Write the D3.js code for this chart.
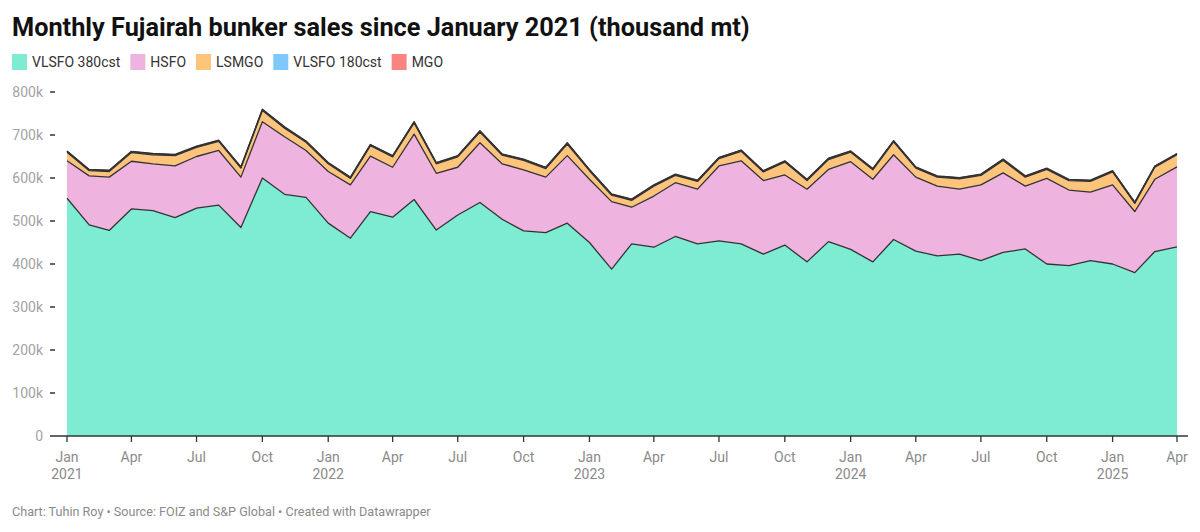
<!DOCTYPE html>
<html>
<head>
<meta charset="utf-8">
<script src="https://cdn.jsdelivr.net/npm/d3@7"></script>
<style>
  body { margin: 0; background: #fff; font-family: Roboto, "Noto Sans", sans-serif; }
  svg text { font-family: Roboto, "Noto Sans", sans-serif; }
</style>
</head>
<body>
<svg id="chart"></svg>
<script>
// Monthly values, thousand mt, Jan 2021 .. Apr 2025
const startMonth = new Date(2021, 0, 1);
const vlsfo380 = [553, 491, 478, 528, 524, 508, 530, 537, 485, 600, 562, 555,
                  495, 460, 522, 509, 550, 479, 514, 543, 504, 477, 473, 495,
                  450, 388, 447, 439, 464, 447, 454, 447, 423, 444, 405, 452,
                  434, 405, 457, 430, 419, 423, 408, 427, 435, 400, 396, 408,
                  400, 380, 429, 440];
const hsfo = [87, 114, 124, 111, 109, 120, 120, 127, 117, 131, 134, 109,
              120, 124, 129, 116, 152, 132, 111, 139, 129, 142, 129, 157,
              147, 157, 85, 119, 125, 127, 174, 193, 171, 163, 169, 168,
              204, 192, 197, 172, 162, 151, 176, 185, 146, 199, 176, 159,
              184, 142, 168, 186];
const lsmgo = [20, 12, 13, 20, 21, 24, 21, 21, 21, 26, 20, 19,
               18, 15, 24, 24, 26, 22, 24, 25, 20, 22, 20, 27,
               20, 15, 16, 23, 17, 18, 17, 22, 20, 30, 20, 23,
               22, 22, 30, 21, 21, 24, 22, 29, 21, 21, 22, 25,
               30, 19, 28, 28];
const vlsfo180 = [2, 2, 2, 2, 2, 2, 2, 2, 2, 2, 2, 2,
                  2, 2, 2, 2, 2, 2, 2, 2, 2, 2, 2, 2,
                  2, 2, 2, 2, 2, 2, 2, 2, 2, 2, 2, 2,
                  2, 2, 2, 2, 2, 2, 2, 2, 2, 2, 2, 2,
                  2, 2, 2, 2];
const mgo = [1, 1, 1, 1, 1, 1, 1, 1, 1, 1, 1, 1,
             1, 1, 1, 1, 1, 1, 1, 1, 1, 1, 1, 1,
             1, 1, 1, 1, 1, 1, 1, 1, 1, 1, 1, 1,
             1, 1, 1, 1, 1, 1, 1, 1, 1, 1, 1, 1,
             1, 1, 1, 1];
const seriesNames = ["VLSFO 380cst", "HSFO", "LSMGO", "VLSFO 180cst", "MGO"];
const seriesColors = ["#7eecd3", "#efb3df", "#ffc47c", "#7ec8fb", "#fa8580"];
const yTicks = [0, 100, 200, 300, 400, 500, 600, 700, 800];

const width = 1200, height = 532;
const margin = { top: 92, right: 23, bottom: 96, left: 67 };

const svg = d3.select("#chart")
    .attr("width", width)
    .attr("height", height);

// Build rows for the stack
const allSeries = [vlsfo380, hsfo, lsmgo, vlsfo180, mgo];
const rows = vlsfo380.map((v, i) => {
    const row = { date: d3.timeMonth.offset(startMonth, i) };
    seriesNames.forEach((name, k) => row[name] = allSeries[k][i]);
    return row;
});

const x = d3.scaleTime()
    .domain(d3.extent(rows, d => d.date))
    .range([margin.left, width - margin.right]);
const y = d3.scaleLinear()
    .domain([0, 800])
    .range([height - margin.bottom, margin.top]);

const stacked = d3.stack().keys(seriesNames)(rows);

const area = d3.area()
    .x(d => x(d.data.date))
    .y0(d => y(d[0]))
    .y1(d => y(d[1]));
const topLine = d3.line()
    .x(d => x(d.data.date))
    .y(d => y(d[1]));

const g = svg.append("g");

g.selectAll(".layer")
    .data(stacked)
    .enter()
    .append("path")
    .attr("class", "layer")
    .attr("d", area)
    .attr("fill", (d, i) => seriesColors[i]);

g.selectAll(".edge")
    .data(stacked)
    .enter()
    .append("path")
    .attr("class", "edge")
    .attr("d", topLine)
    .attr("fill", "none")
    .attr("stroke", "#333")
    .attr("stroke-width", 1.3)
    .attr("stroke-linejoin", "round");

// Y axis: labels and short dashes
const yAxis = svg.append("g");
yAxis.selectAll("text")
    .data(yTicks)
    .enter()
    .append("text")
    .attr("x", 43)
    .attr("y", d => y(d))
    .attr("dy", "0.35em")
    .attr("text-anchor", "end")
    .attr("font-size", 14)
    .attr("fill", "#a3a3a3")
    .text(d => d === 0 ? "0" : d + "k");
yAxis.selectAll("line")
    .data(yTicks.filter(d => d > 0))
    .enter()
    .append("line")
    .attr("x1", 50).attr("x2", 55)
    .attr("y1", d => y(d)).attr("y2", d => y(d))
    .attr("stroke", "#333")
    .attr("stroke-width", 1.5);

// X axis
const xAxis = svg.append("g");
xAxis.append("line")
    .attr("x1", 50).attr("x2", width - 12)
    .attr("y1", y(0)).attr("y2", y(0))
    .attr("stroke", "#333")
    .attr("stroke-width", 1.5);

const quarterTicks = d3.timeMonth.every(3).range(startMonth, d3.timeMonth.offset(x.domain()[1], 1));
const fmtMonth = d3.timeFormat("%b");
xAxis.selectAll(".tick")
    .data(quarterTicks)
    .enter()
    .append("line")
    .attr("x1", d => x(d)).attr("x2", d => x(d))
    .attr("y1", y(0)).attr("y2", y(0) + 6)
    .attr("stroke", "#333")
    .attr("stroke-width", 1.3);
xAxis.selectAll(".mlabel")
    .data(quarterTicks)
    .enter()
    .append("text")
    .attr("x", d => x(d))
    .attr("y", y(0) + 26)
    .attr("text-anchor", "middle")
    .attr("font-size", 14)
    .attr("fill", "#8a8a8a")
    .text(d => fmtMonth(d));
xAxis.selectAll(".ylabel")
    .data(quarterTicks.filter(d => d.getMonth() === 0))
    .enter()
    .append("text")
    .attr("x", d => x(d))
    .attr("y", y(0) + 43)
    .attr("text-anchor", "middle")
    .attr("font-size", 14)
    .attr("fill", "#8a8a8a")
    .text(d => d.getFullYear());

// Title
svg.append("text")
    .attr("x", 12)
    .attr("y", 36)
    .attr("font-size", 25.3)
    .attr("font-weight", 700)
    .attr("fill", "#111")
    .text("Monthly Fujairah bunker sales since January 2021 (thousand mt)");

// Legend
const legend = svg.append("g");
let lx = 12;
seriesNames.forEach((name, i) => {
    legend.append("rect")
        .attr("x", lx).attr("y", 54)
        .attr("width", 15).attr("height", 16)
        .attr("fill", seriesColors[i]);
    const t = legend.append("text")
        .attr("x", lx + 20)
        .attr("y", 62)
        .attr("dy", "0.35em")
        .attr("font-size", 14)
        .attr("fill", "#333")
        .text(name);
    lx += 20 + t.node().getComputedTextLength() + 10;
});

// Footer
svg.append("text")
    .attr("x", 12)
    .attr("y", 516)
    .attr("font-size", 12.6)
    .attr("fill", "#8a8a8a")
    .text("Chart: Tuhin Roy • Source: FOIZ and S&P Global • Created with Datawrapper");
</script>
</body>
</html>
